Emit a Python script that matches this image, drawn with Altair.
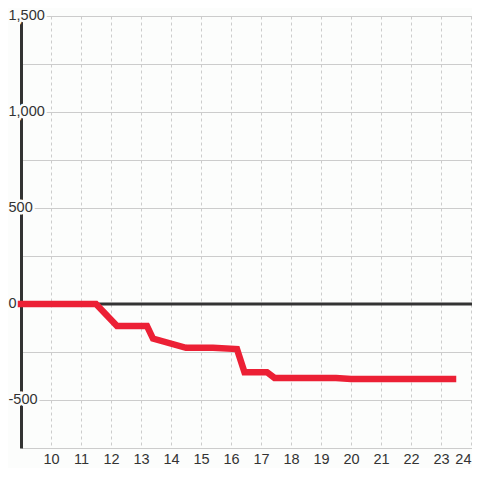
import altair as alt
import pandas as pd

# Data
x_vals = [9, 11.5, 12.2, 13.2, 13.4, 14.5, 15.4, 16.2, 16.45, 17.2, 17.45, 19.5, 20, 23.4]
y_vals = [0, 0, -115, -115, -180, -228, -228, -235, -355, -355, -385, -385, -390, -390]

x_ticks = list(range(10, 25))
y_grid = [-750, -500, -250, 0, 250, 500, 750, 1000, 1250, 1500]
y_label_vals = [1500, 1000, 500, 0, -500]
y_label_text = ["1,500", "1,000", "500", "0", "-500"]

BG = "#fcfdfc"
INK = "#333333"
RED = "#ec2035"
FONT = "Liberation Sans"
FS = 14.5

line_df = pd.DataFrame({"x": x_vals, "y": y_vals})
lab_df = pd.DataFrame({"v": y_label_vals, "t": y_label_text})
zero_df = pd.DataFrame({"v": [0]})

W, H = 451, 432
xs = alt.Scale(domain=[9, 9 + W / 30], nice=False, zero=False)
ys = alt.Scale(domain=[-750, 1500], nice=False)

base_x_axis = alt.Axis(values=x_ticks, title=None, grid=True, gridDash=[3, 3],
                       gridColor="#cccccc", domain=False, ticks=False,
                       labelFontSize=FS, labelColor=INK, labelPadding=4,
                       labelFont=FONT, zindex=0)
base_y_axis = alt.Axis(values=y_grid, title=None, grid=True, gridColor="#cccccc",
                       domain=True, domainColor=INK, domainWidth=3, ticks=False,
                       labels=False, zindex=0)

line = alt.Chart(line_df).mark_line(color=RED, strokeWidth=6.5, strokeCap="square",
                                    strokeJoin="miter").encode(
    x=alt.X("x:Q", scale=xs, axis=base_x_axis),
    y=alt.Y("y:Q", scale=ys, axis=base_y_axis),
)

zero = alt.Chart(zero_df).mark_rule(color=INK, strokeWidth=3).encode(
    y=alt.Y("v:Q", scale=ys),
    x=alt.value(0), x2=alt.value(W),
)


def label_layer(halo):
    kw = dict(align="left", baseline="middle", fontSize=FS, font=FONT)
    if halo:
        kw.update(stroke=BG, strokeWidth=5, fill=BG, strokeJoin="miter")
    else:
        kw.update(color=INK)
    return alt.Chart(lab_df).mark_text(**kw).encode(
        y=alt.Y("v:Q", scale=ys), x=alt.value(-12.5), text="t:N")


chart = alt.layer(
    label_layer(True), label_layer(False),
    zero, line,
).properties(
    width=W, height=H,
    autosize=alt.AutoSizeParams(type="none"),
    padding={"left": 13, "top": 8, "right": 0, "bottom": 20},
    background=BG,
).configure_view(stroke=None)

chart.save("out.html", embed_options={"renderer": "svg", "actions": False})
